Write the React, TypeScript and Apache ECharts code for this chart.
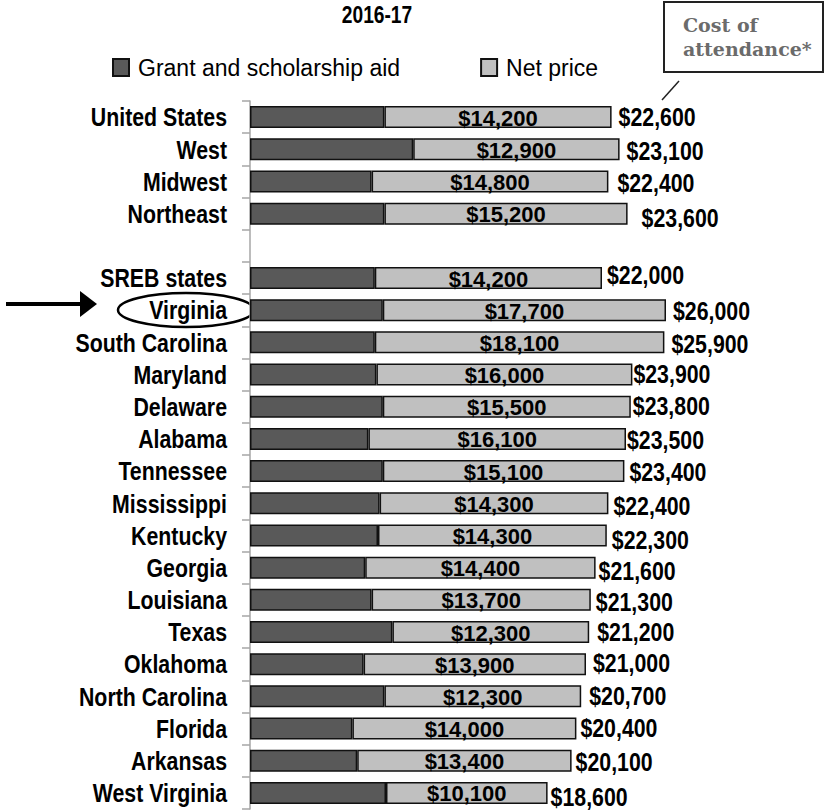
import React, { useEffect, useRef } from "react";
import * as echarts from "echarts";

const categories = [
  "United States", "West", "Midwest", "Northeast", "",
  "SREB states", "Virginia", "South Carolina", "Maryland", "Delaware",
  "Alabama", "Tennessee", "Mississippi", "Kentucky", "Georgia",
  "Louisiana", "Texas", "Oklahoma", "North Carolina", "Florida",
  "Arkansas", "West Virginia",
];
const grantAid = [
  8400, 10200, 7600, 8400, null,
  7800, 8300, 7800, 7900, 8300,
  7400, 8300, 8100, 8000, 7200,
  7600, 8900, 7100, 8400, 6400,
  6700, 8500,
];
const netPrice = [
  14200, 12900, 14800, 15200, null,
  14200, 17700, 18100, 16000, 15500,
  16100, 15100, 14300, 14300, 14400,
  13700, 12300, 13900, 12300, 14000,
  13400, 10100,
];
const costOfAttendance = [
  22600, 23100, 22400, 23600, null,
  22000, 26000, 25900, 23900, 23800,
  23500, 23400, 22400, 22300, 21600,
  21300, 21200, 21000, 20700, 20400,
  20100, 18600,
];

// label nudges (style only)
const costLabelDx = [7, 7, 9, 14, 0, 5, 7, 7, 1, 2, 1, 5, 5, 5, 3, 5, 8, 7, 8, 4, 4, 3];
const costLabelDy = [0, 1, 1, 4, 0, -3, 1, 1, -1, -1, 1, 1, 2, 4, 3, 2, 0, -1, -1, -1, 1, 4];

const fmt = (v: number) => "$" + v.toLocaleString("en-US");
const SANS = "'Liberation Sans', Arial, sans-serif";
const NARROW_SCALE = 0.82;

export default function App() {
  const ref = useRef<HTMLDivElement>(null);
  useEffect(() => {
    if (!ref.current) return;
    const chart = echarts.init(ref.current, undefined, { renderer: "svg" });
    chart.setOption({
      animation: false,
      backgroundColor: "#ffffff",
      legend: {
        data: ["Grant and scholarship aid", "Net price"],
        left: 112,
        top: 56,
        padding: 0,
        itemWidth: 16,
        itemHeight: 17,
        itemGap: 80,
        icon: "rect",
        textStyle: { fontFamily: SANS, fontSize: 23, color: "#000", padding: [0, 0, 0, 4] },
      },
      grid: { left: 250, top: 101, width: 480, height: 708 },
      xAxis: { type: "value", min: 0, max: 30000, show: false },
      yAxis: {
        type: "category",
        inverse: true,
        data: categories,
        axisLine: { show: true, lineStyle: { color: "#a6a6a6", width: 1.5 } },
        axisTick: { show: true, length: 8, lineStyle: { color: "#a6a6a6", width: 1.5 } },
        axisLabel: { show: false },
        splitLine: { show: false },
      },
      series: [
        {
          name: "Grant and scholarship aid",
          type: "bar",
          stack: "cost",
          barWidth: 22,
          data: grantAid,
          itemStyle: { color: "#595959", borderColor: "#111", borderWidth: 1.5 },
        },
        {
          name: "Net price",
          type: "bar",
          stack: "cost",
          barWidth: 22,
          data: netPrice,
          itemStyle: { color: "#c0c0c0", borderColor: "#111", borderWidth: 1.5 },
          label: {
            show: true,
            position: "inside",
            offset: [0, 1],
            formatter: (p: any) => (p.value == null ? "" : fmt(p.value)),
            fontFamily: SANS,
            fontWeight: "bold",
            fontSize: 22,
            color: "#000",
          },
        },
      ],
    });

    const x0 = chart.convertToPixel({ xAxisIndex: 0 }, 0) as number;
    const labelGraphics: any[] = [];
    categories.forEach((name, i) => {
      if (!name) return;
      const y = chart.convertToPixel({ yAxisIndex: 0 }, i) as number;
      labelGraphics.push({
        type: "text",
        x: x0 - 23,
        y,
        scaleX: NARROW_SCALE,
        style: {
          text: name,
          font: `bold 26px ${SANS}`,
          fill: "#000",
          align: "right",
          verticalAlign: "middle",
        },
      });
      const cost = costOfAttendance[i];
      if (cost != null) {
        const xc = chart.convertToPixel({ xAxisIndex: 0 }, cost) as number;
        labelGraphics.push({
          type: "text",
          x: xc + costLabelDx[i],
          y: y + costLabelDy[i],
          scaleX: NARROW_SCALE,
          style: {
            text: fmt(cost),
            font: `bold 26px ${SANS}`,
            fill: "#000",
            align: "left",
            verticalAlign: "middle",
          },
        });
      }
    });

    chart.setOption({
      graphic: [
        {
          type: "text",
          x: 377,
          y: 3,
          scaleX: 0.8,
          style: {
            text: "2016-17",
            font: `bold 24px ${SANS}`,
            fill: "#000",
            align: "center",
            verticalAlign: "top",
          },
        },
        {
          type: "rect",
          shape: { x: 664, y: 2, width: 159, height: 70 },
          style: { fill: "#fff", stroke: "#222", lineWidth: 2 },
        },
        {
          type: "text",
          x: 683,
          y: 13,
          style: {
            text: "Cost of\nattendance*",
            font: "bold 19px 'DejaVu Serif', serif",
            lineHeight: 24,
            fill: "#6b6b6b",
          },
        },
        {
          type: "line",
          shape: { x1: 679, y1: 81, x2: 662, y2: 100 },
          style: { stroke: "#222", lineWidth: 1.5 },
        },
        {
          type: "ellipse",
          shape: { cx: 186, cy: 310, rx: 68, ry: 17 },
          style: { fill: "none", stroke: "#000", lineWidth: 2.5 },
        },
        {
          type: "line",
          shape: { x1: 6, y1: 304, x2: 82, y2: 304 },
          style: { stroke: "#000", lineWidth: 4 },
        },
        {
          type: "polygon",
          shape: { points: [[80, 291], [97, 304], [80, 317]] },
          style: { fill: "#000" },
        },
        ...labelGraphics,
      ],
    });
    return () => chart.dispose();
  }, []);
  return (
    <div
      ref={ref}
      style={{ position: "absolute", left: 0, top: 0, width: 825, height: 812, background: "#fff" }}
    />
  );
}
